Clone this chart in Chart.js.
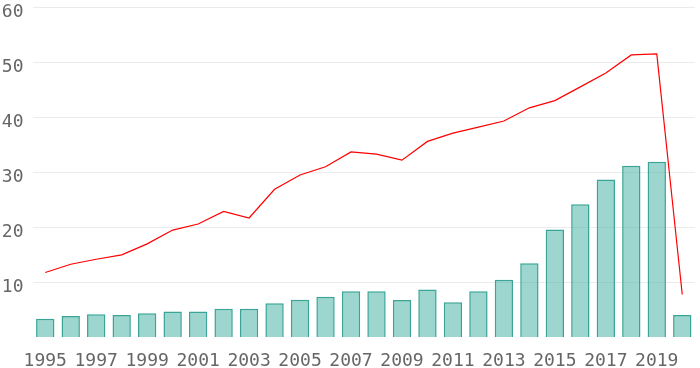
<!DOCTYPE html>
<html>
<head>
<meta charset="utf-8">
<script src="https://cdn.jsdelivr.net/npm/chart.js@4/dist/chart.umd.min.js"></script>
<style>
  html, body { margin: 0; padding: 0; background: #fff; }
  #wrap { width: 700px; height: 368px; }
</style>
</head>
<body>
<div id="wrap"><canvas id="chart"></canvas></div>
<script>
// Datos del gráfico
const years = ['1995','1996','1997','1998','1999','2000','2001','2002','2003','2004','2005','2006','2007',
               '2008','2009','2010','2011','2012','2013','2014','2015','2016','2017','2018','2019','2020'];
const barValues = [3.4, 3.9, 4.2, 4.1, 4.4, 4.7, 4.7, 5.2, 5.2, 6.2, 6.85, 7.4, 8.4,
                   8.4, 6.8, 8.7, 6.4, 8.4, 10.5, 13.5, 19.6, 24.2, 28.7, 31.2, 31.9, 4.1];
const lineValues = [11.8, 13.3, 14.2, 15.0, 17.0, 19.5, 20.6, 22.9, 21.7, 26.9, 29.5, 31.0, 33.7,
                    33.3, 32.2, 35.6, 37.1, 38.2, 39.3, 41.7, 43.0, 45.5, 48.0, 51.3, 51.5, 7.8];
const yTicks = [10, 20, 30, 40, 50, 60];

Chart.defaults.font.family = '"DejaVu Sans Mono", monospace';
Chart.defaults.font.size = 18;
Chart.defaults.color = '#666';

new Chart(document.getElementById('chart'), {
    data: {
        labels: years,
        datasets: [
            {
                type: 'line',
                data: lineValues,
                borderColor: '#ff0000',
                borderWidth: 1.2,
                pointRadius: 0,
                tension: 0,
                fill: false,
                order: 0
            },
            {
                type: 'bar',
                data: barValues,
                backgroundColor: 'rgba(75, 180, 168, 0.55)',
                borderColor: '#3aa597',
                borderWidth: 1.5,
                categoryPercentage: 0.8,
                barPercentage: 0.9,
                order: 1
            }
        ]
    },
    options: {
        responsive: true,
        maintainAspectRatio: false,
        animation: false,
        layout: { padding: { top: 0, right: 5, left: 0, bottom: 0 } },
        plugins: {
            legend: { display: false },
            tooltip: { enabled: false }
        },
        scales: {
            x: {
                grid: { display: false, drawTicks: false },
                border: { display: false },
                ticks: { maxRotation: 0, autoSkip: true, padding: 13 },
                afterFit: (axis) => {
                    axis.height = 30.5;
                    axis.paddingLeft = 0;
                }
            },
            y: {
                min: 0,
                max: 60,
                afterBuildTicks: (axis) => {
                    axis.ticks = [0].concat(yTicks).map(v => ({ value: v }));
                },
                afterFit: (axis) => {
                    axis.width = 32.5;
                    axis.paddingTop = 7;
                    axis.paddingBottom = 0;
                },
                border: { display: false },
                grid: {
                    drawTicks: false,
                    color: (ctx) => (ctx.tick && ctx.tick.value === 0) ? 'rgba(0,0,0,0)' : '#ebebeb'
                },
                ticks: {
                    padding: 9,
                    labelOffset: 5,
                    callback: (v) => v === 0 ? '' : v
                }
            }
        }
    }
});
</script>
</body>
</html>
